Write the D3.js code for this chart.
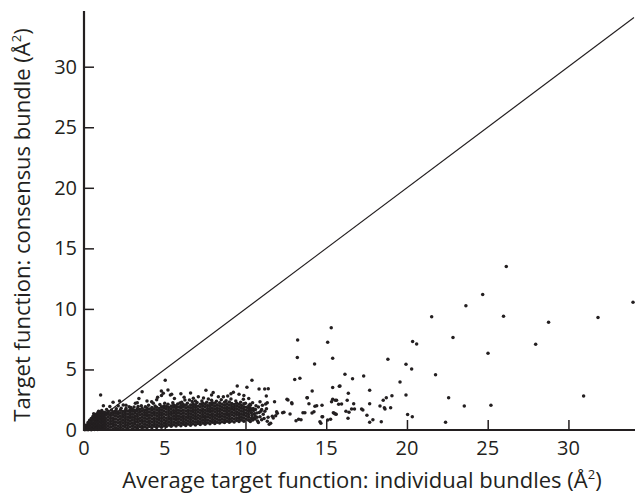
<!DOCTYPE html>
<html><head><meta charset="utf-8">
<script src="https://cdn.jsdelivr.net/npm/d3@7"></script>
<style>body{margin:0;background:#fff}svg{display:block}</style>
</head><body>
<script>
// ---- data ----
const xTicks = [0, 5, 10, 15, 20, 25, 30];
const yTicks = [0, 5, 10, 15, 20, 25, 30];
const xLabel = "Average target function: individual bundles (Å";
const yLabel = "Target function: consensus bundle (Å";

// sparse / outlying points [x, y]
const sparsePoints = [
[26.15,13.5],[24.69,11.18],[23.65,10.27],[21.53,9.36],[25.98,9.39],[31.83,9.28],[28.77,8.90],[34.0,10.55],
[22.85,7.63],[20.35,7.30],[20.6,7.1],[27.97,7.08],[25.02,6.34],[18.82,5.84],[19.94,5.43],[20.29,5.04],
[21.77,4.57],[16.16,4.6],[16.63,4.24],[17.32,4.46],[19.57,3.97],[15.85,3.64],[17.69,3.28],[16.37,3.03],
[18.72,2.67],[19.07,2.83],[19.94,2.89],[22.58,2.67],[30.94,2.81],[18.53,2.45],[15.95,2.15],[16.7,2.17],
[17.69,2.17],[16.57,1.74],[16.75,1.74],[17.19,1.74],[17.27,1.65],[18.33,1.98],[18.6,1.84],[18.64,1.74],
[18.99,1.84],[23.55,1.98],[25.2,2.04],[16.22,1.55],[17.52,1.21],[16.35,0.96],[17.89,0.85],[17.69,0.63],
[18.41,0.69],[20.04,1.29],[20.33,1.1],[22.39,0.63],[16.3,2.45],
[15.31,8.45],[13.23,7.44],[15.09,7.25],[13.21,5.98],[15.4,5.92],[14.28,5.45],[13.37,4.27],[13.05,4.16],
[14.13,3.22],[13.81,2.67],[13.93,2.17],[14.41,2.01],[14.74,2.04],[15.4,2.53],[15.56,2.45],[15.81,3.61],
[15.4,3.5],[15.44,1.43],[15.56,1.32],[14.24,1.51],[14.12,1.40],[14.74,1.1],[14.61,0.69],[14.67,0.55],
[15.27,0.88],[15.09,0.83],[13.13,0.77],[13.29,0.88],[13.44,0.85],[12.63,2.48],[12.86,2.26],[12.88,2.17],
[12.57,2.53],[12.3,1.43],[12.38,1.46],[12.76,1.32],[11.97,1.38],[11.93,1.51],[11.87,1.18],[11.72,0.99],
[11.66,1.13],[11.47,0.47],[11.56,0.55],[13.56,1.43],[13.68,1.43],[14.3,1.96],[14.78,1.1],[15.33,2.34],
[15.64,2.45],[15.77,2.12],[15.5,1.38],[15.62,1.3],[16.41,1.46],[13.83,2.67],
[10.4,4.1],[10.84,3.39],[11.19,3.39],[11.41,3.41],[11.29,2.81],[10.9,2.34],[10.44,2.26],[10.28,2.12],
[11.35,2.26],[11.25,2.15],[11.8,2.34],[10.09,3.53],[9.49,3.64],[9.25,3.11],[7.55,3.28],[5.03,4.1],
[5.35,2.89],[8.32,2.75],[8.63,2.75],[9.87,2.53],[6.25,2.48],[6.77,2.62],[7.08,2.75],[1.03,2.89],
[1.2,2.01],[3.6,3.15],[4.79,3.22],[4.91,3.03],[5.43,2.95],[4.56,2.7],[4.19,2.34],[4.29,2.2],
[3.18,2.2],[2.79,1.93],[2.43,2.07],[2.12,2.01],[5.94,2.23],[6.53,2.48],[6.9,2.4],
[10.3,1.8],[10.5,1.6],[10.7,1.4],[10.4,1.2],[10.9,1.1],[10.6,0.9],[10.3,0.7],[11.0,1.7],[10.8,1.9],[11.1,1.3],[10.5,1.0],
[10.65,2.0],[10.95,1.55],[11.15,0.95],[10.75,0.75],[11.3,1.75],[11.05,2.05],[10.55,1.35]
];

// ragged upper fringe and scatter of the dense cluster [x, y]
const fringePoints = [
[1.4,1.7],[1.7,1.65],[2.0,1.75],[2.3,1.8],[2.6,1.78],[2.9,1.85],[3.1,1.9],[3.35,1.95],[3.55,2.0],[3.8,1.92],
[4.0,2.05],[4.4,1.98],[4.7,2.1],[5.0,2.2],[5.2,2.12],[5.5,2.25],[5.8,2.15],[6.05,2.3],[6.4,2.2],[6.7,2.35],
[7.0,2.28],[7.3,2.4],[7.6,2.3],[7.9,2.45],[8.2,2.38],[8.5,2.5],[8.8,2.42],[9.1,2.55],[9.4,2.4],[9.7,2.3],
[10.0,2.2],[10.3,2.05],
[1.6,1.95],[2.6,2.05],[3.3,2.25],[3.9,2.4],[4.5,2.5],[5.6,2.6],[6.2,2.7],[7.4,2.65],[7.9,2.9],[8.9,2.8],
[9.6,2.95],[9.1,3.0],[8.0,3.1],[6.0,3.0],[4.8,2.85],[3.4,2.6],[2.2,2.4],[1.8,2.3],[5.2,3.3],[6.6,3.05],
[10.2,2.6],[9.9,2.85],[7.7,2.55],[0.6,1.35],[0.9,1.55],[1.1,1.62],
[10.35,0.95],[10.37,1.42],[10.33,1.63],[10.45,0.82],[10.48,1.78],[10.6,1.15],[10.62,1.7],[10.72,1.05],
[10.85,1.45],[10.8,0.62],[11.0,0.85],[11.2,1.55],[11.4,1.05],[11.35,0.72]
];

// dense cluster, per column: [x, [y values]]
const denseColumns = [
[0.05,[0.02,0.14]],
[0.15,[0.05,0.26,0.41]],
[0.25,[0.02,0.21,0.44,0.62]],
[0.35,[0.08,0.31,0.53,0.81]],
[0.45,[0.03,0.22,0.47,0.71,0.94]],
[0.55,[0.1,0.36,0.58,0.86,1.12]],
[0.65,[0.04,0.27,0.49,0.76,1.01,1.19]],
[0.75,[0.12,0.37,0.63,0.88,1.14,1.31]],
[0.85,[0.05,0.29,0.52,0.79,1.03,1.26,1.41]],
[0.95,[0.16,0.4,0.66,0.9,1.13,1.36]],
[1.05,[0.06,0.31,0.55,0.81,1.04,1.29,1.49]],
[1.15,[0.19,0.42,0.69,0.93,1.17,1.41]],
[1.25,[0.08,0.33,0.56,0.81,1.05,1.27,1.47]],
[1.35,[0.21,0.45,0.71,0.94,1.21,1.42]],
[1.5,[0.1,0.35,0.57,0.83,1.07,1.31,1.53]],
[1.65,[0.22,0.47,0.7,0.95,1.19,1.4]],
[1.8,[0.07,0.31,0.54,0.79,1.02,1.27,1.51]],
[1.95,[0.18,0.43,0.67,0.9,1.15,1.38,1.56]],
[2.1,[0.11,0.34,0.59,0.82,1.07,1.31,1.5]],
[2.25,[0.2,0.45,0.68,0.93,1.16,1.41,1.63]],
[2.4,[0.09,0.32,0.57,0.8,1.05,1.28,1.52]],
[2.55,[0.23,0.46,0.71,0.94,1.19,1.43,1.6]],
[2.7,[0.12,0.37,0.6,0.85,1.08,1.33,1.57]],
[2.85,[0.24,0.49,0.72,0.97,1.2,1.45,1.67]],
[3.0,[0.1,0.35,0.58,0.83,1.06,1.31,1.54,1.71]],
[3.15,[0.22,0.47,0.7,0.95,1.18,1.43,1.62]],
[3.3,[0.15,0.38,0.63,0.86,1.11,1.34,1.59,1.76]],
[3.45,[0.27,0.5,0.75,0.98,1.23,1.46,1.69]],
[3.6,[0.13,0.36,0.61,0.84,1.09,1.32,1.57,1.79]],
[3.75,[0.25,0.48,0.73,0.96,1.21,1.44,1.66]],
[3.9,[0.17,0.4,0.65,0.88,1.13,1.36,1.61,1.81]],
[4.05,[0.28,0.53,0.76,1.01,1.24,1.49,1.73]],
[4.2,[0.19,0.42,0.67,0.9,1.15,1.38,1.63,1.86]],
[4.35,[0.31,0.54,0.79,1.02,1.27,1.5,1.75]],
[4.5,[0.21,0.44,0.69,0.92,1.17,1.4,1.65,1.88]],
[4.65,[0.33,0.56,0.81,1.04,1.29,1.52,1.77]],
[4.8,[0.23,0.46,0.71,0.94,1.19,1.42,1.67,1.91]],
[4.95,[0.35,0.58,0.83,1.06,1.31,1.54,1.79,1.98]],
[5.1,[0.29,0.52,0.77,1.0,1.25,1.48,1.73,1.95]],
[5.25,[0.41,0.64,0.89,1.12,1.37,1.6,1.85]],
[5.4,[0.31,0.54,0.79,1.02,1.27,1.5,1.75,1.99]],
[5.55,[0.43,0.66,0.91,1.14,1.39,1.62,1.87,2.06]],
[5.7,[0.33,0.56,0.81,1.04,1.29,1.52,1.77,2.01]],
[5.85,[0.45,0.68,0.93,1.16,1.41,1.64,1.89]],
[6.0,[0.35,0.58,0.83,1.06,1.31,1.54,1.79,2.03]],
[6.15,[0.47,0.7,0.95,1.18,1.43,1.66,1.91,2.11]],
[6.3,[0.37,0.6,0.85,1.08,1.33,1.56,1.81,2.05]],
[6.45,[0.49,0.72,0.97,1.2,1.45,1.68,1.93]],
[6.6,[0.39,0.62,0.87,1.1,1.35,1.58,1.83,2.07]],
[6.75,[0.51,0.74,0.99,1.22,1.47,1.7,1.95,2.16]],
[6.9,[0.41,0.64,0.89,1.12,1.37,1.6,1.85,2.09]],
[7.05,[0.53,0.76,1.01,1.24,1.49,1.72,1.97]],
[7.2,[0.45,0.68,0.93,1.16,1.41,1.64,1.89,2.13]],
[7.35,[0.57,0.8,1.05,1.28,1.53,1.76,2.01,2.21]],
[7.5,[0.47,0.7,0.95,1.18,1.43,1.66,1.91,2.15]],
[7.65,[0.59,0.82,1.07,1.3,1.55,1.78,2.03]],
[7.8,[0.51,0.74,0.99,1.22,1.47,1.7,1.95,2.19]],
[7.95,[0.63,0.86,1.11,1.34,1.59,1.82,2.07,2.26]],
[8.1,[0.53,0.76,1.01,1.24,1.49,1.72,1.97,2.21]],
[8.25,[0.65,0.88,1.13,1.36,1.61,1.84,2.09]],
[8.4,[0.57,0.8,1.05,1.28,1.53,1.76,2.01,2.25]],
[8.55,[0.69,0.92,1.17,1.4,1.65,1.88,2.13]],
[8.7,[0.61,0.84,1.09,1.32,1.57,1.8,2.05,2.29]],
[8.85,[0.73,0.96,1.21,1.44,1.69,1.92,2.17]],
[9.0,[0.63,0.86,1.11,1.34,1.59,1.82,2.07,2.31]],
[9.15,[0.75,0.98,1.23,1.46,1.71,1.94,2.19]],
[9.3,[0.67,0.9,1.15,1.38,1.63,1.86,2.11]],
[9.45,[0.79,1.02,1.27,1.5,1.75,1.98,2.21]],
[9.6,[0.71,0.94,1.19,1.42,1.67,1.9,2.13]],
[9.75,[0.83,1.06,1.31,1.54,1.79,2.03]],
[9.9,[0.73,0.96,1.21,1.44,1.69,1.92,2.16]],
[10.05,[0.91,1.15,1.39,1.63,1.87]],
[10.2,[0.81,1.05,1.29,1.53,1.77,2.01]]
];

// ---- chart ----
const W = 635, H = 494;
const ink = "#231f20";
const svg = d3.select("body").append("svg").attr("width", W).attr("height", H);

const x = d3.scaleLinear().domain([0, 34.06]).range([84, 634]);
const y = d3.scaleLinear().domain([0, 34.6]).range([430, 11]);

const points = sparsePoints.concat(fringePoints,
  denseColumns.flatMap(([cx, ys]) => ys.map(v => [cx, v])));

// diagonal y = x
svg.append("line")
  .attr("x1", x(0)).attr("y1", y(0)).attr("x2", x(34.06)).attr("y2", y(34.06))
  .attr("stroke", ink).attr("stroke-width", 1.1);

svg.append("g").selectAll("circle").data(points).join("circle")
  .attr("cx", d => x(d[0])).attr("cy", d => y(d[1])).attr("r", 1.75).attr("fill", ink);

// axes
const xAxis = svg.append("g").attr("transform", `translate(0,${y(0)})`)
  .call(d3.axisTop(x).tickValues(xTicks.filter(t => t > 0)).tickSize(10).tickFormat(""));
xAxis.select(".domain").remove();
xAxis.selectAll(".tick line").attr("stroke", ink).attr("stroke-width", 1.5);

const yAxis = svg.append("g").attr("transform", `translate(${x(0)},0)`)
  .call(d3.axisRight(y).tickValues(yTicks.filter(t => t > 0)).tickSize(10).tickFormat(""));
yAxis.select(".domain").remove();
yAxis.selectAll(".tick line").attr("stroke", ink).attr("stroke-width", 1.5);

svg.append("line").attr("x1", x(0)).attr("x2", W).attr("y1", y(0)).attr("y2", y(0))
  .attr("stroke", ink).attr("stroke-width", 2.2);
svg.append("line").attr("x1", x(0)).attr("x2", x(0)).attr("y1", y(34.6)).attr("y2", y(0) + 1.1)
  .attr("stroke", ink).attr("stroke-width", 2.2);

const font = "'Open Sans', 'Noto Sans', sans-serif";
svg.append("g").selectAll("text").data(xTicks).join("text")
  .attr("x", d => x(d)).attr("y", 455).attr("text-anchor", "middle")
  .attr("font-family", font).attr("font-size", 20).attr("fill", ink).text(d => d);
svg.append("g").selectAll("text").data(yTicks).join("text")
  .attr("x", 77).attr("y", d => y(d) + 7).attr("text-anchor", "end")
  .attr("font-family", font).attr("font-size", 20).attr("fill", ink).text(d => d);

const xt = svg.append("text").attr("x", 362).attr("y", 488).attr("text-anchor", "middle")
  .attr("font-family", font).attr("font-size", 22).attr("fill", ink);
xt.append("tspan").text(xLabel);
xt.append("tspan").attr("font-size", 13).attr("dy", -9).text("2");
xt.append("tspan").attr("dy", 9).text(")");

const yt = svg.append("text").attr("transform", "translate(30,225) rotate(-90)").attr("text-anchor", "middle")
  .attr("font-family", font).attr("font-size", 22).attr("fill", ink);
yt.append("tspan").text(yLabel);
yt.append("tspan").attr("font-size", 13).attr("dy", -9).text("2");
yt.append("tspan").attr("dy", 9).text(")");
</script>
</body></html>
